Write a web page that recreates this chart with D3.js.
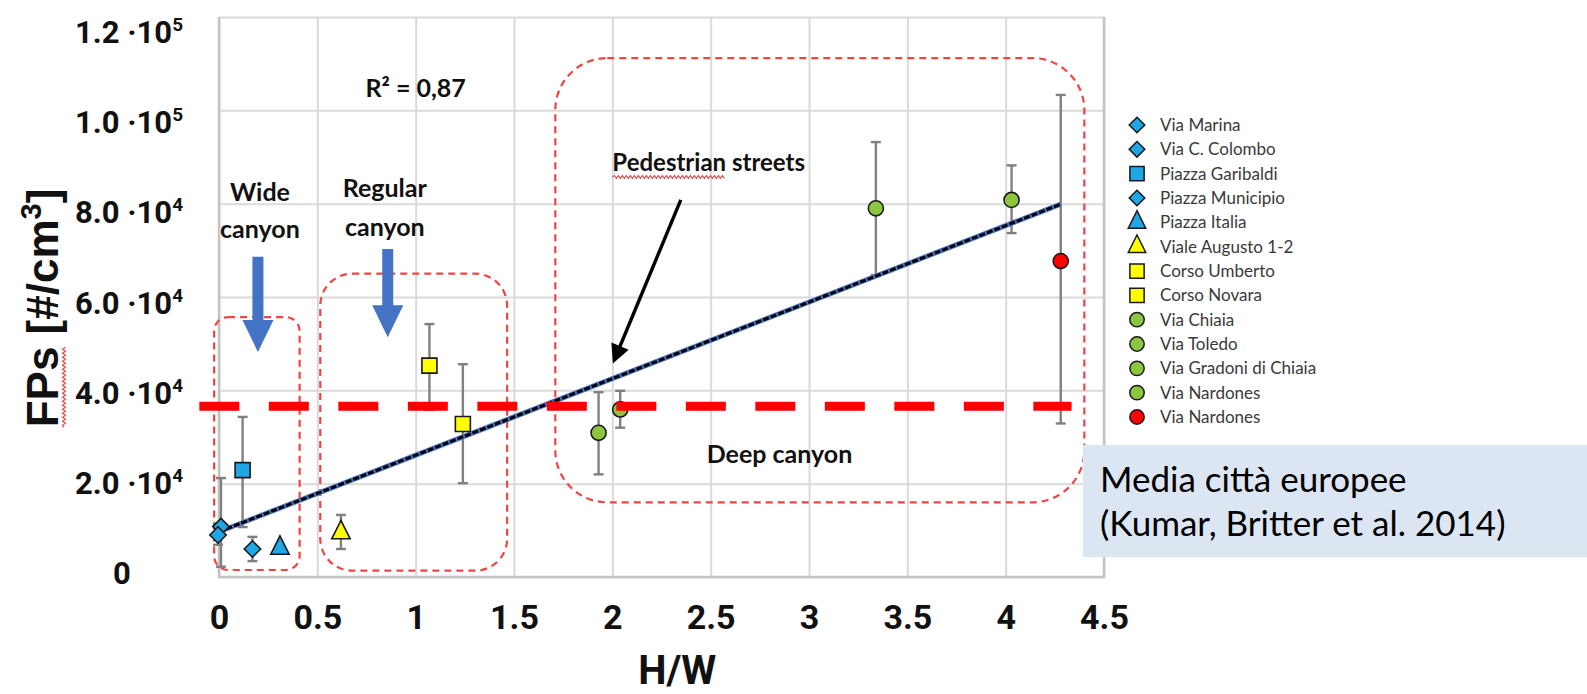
<!DOCTYPE html>
<html>
<head>
<meta charset="utf-8">
<script src="https://cdn.jsdelivr.net/npm/d3@7"></script>
<style>
  body { margin: 0; background: #fff; }
  svg { display: block; }
</style>
</head>
<body>
<svg width="1587" height="694"></svg>
<script>
// measured streets, H/W ratio against fine particle count
var streets = ["Via Marina", "Via C. Colombo", "Piazza Garibaldi", "Piazza Municipio", "Piazza Italia",
  "Viale Augusto 1-2", "Corso Umberto", "Corso Novara", "Via Chiaia", "Via Toledo",
  "Via Gradoni di Chiaia", "Via Nardones", "Via Nardones"];
var hw      = [0.01, -0.005, 0.12, 0.17, 0.31, 0.62, 1.07, 1.24, 1.93, 2.04, 3.34, 4.03, 4.28];
var fps     = [10800, 9000, 22900, 6000, 6200, 9500, 45300, 32800, 30900, 35900, 79000, 80800, 67700];
var errLow  = [2200, 6900, 10700, 3400, null, 6000, 35800, 20100, 22000, 32000, 64700, 73700, 32900];
var errHigh = [21200, 11500, 34300, 8600, null, 13300, 54200, 45600, 39600, 39900, 93200, 88200, 103300];
var symbols = ["diamond", "diamond", "square", "diamond", "triangle", "triangle", "square", "square",
  "circle", "circle", "circle", "circle", "circle"];
var groups  = ["wide", "wide", "wide", "wide", "wide", "regular", "regular", "regular",
  "deep", "deep", "deep", "deep", "peak"];

var xTicks = [0, 0.5, 1, 1.5, 2, 2.5, 3, 3.5, 4, 4.5];
var yTicks = [0, 20000, 40000, 60000, 80000, 100000, 120000];

// linear trend, R² = 0,87
var trendIntercept = 9700, trendSlope = 16400, trendRange = [0, 4.28];
// European cities average (Kumar, Britter et al. 2014)
var refLevel = 36600, refRange = [-0.1, 4.335];

// canyon regions (H/W range, FPs range)
var regionNames = ["Wide canyon", "Regular canyon", "Deep canyon"];
var regionHW  = [[-0.025, 0.41], [0.515, 1.465], [1.71, 4.40]];
var regionFPs = [[1500, 55700], [1350, 65000], [16000, 111200]];

var svg = d3.select("svg");

var x = d3.scaleLinear().domain([0, 4.5]).range([219, 1104]);
var y = d3.scaleLinear().domain([0, 120000]).range([577, 17]);
// the tick labels sit a little off the gridlines in the original slide
var yLab = d3.scaleLinear().domain([0, 120000]).range([573, 32]);

var groupFill = {wide: "#1ea6e6", regular: "#ffff00", deep: "#8cc63e", peak: "#ff0000"};

var rhomb = { draw: function(ctx, size) {
  var r = Math.sqrt(size / 2);
  ctx.moveTo(0, -r); ctx.lineTo(r, 0); ctx.lineTo(0, r); ctx.lineTo(-r, 0); ctx.closePath();
}};
var tri = { draw: function(ctx, size) {
  var w = Math.sqrt(size) * 0.75, h = Math.sqrt(size) * 1.5;
  ctx.moveTo(0, -h * 2 / 3); ctx.lineTo(w, h / 3); ctx.lineTo(-w, h / 3); ctx.closePath();
}};
function symbolPath(type, k) {
  var t = {diamond: [rhomb, 135], square: [d3.symbolSquare, 225], triangle: [tri, 150], circle: [d3.symbolCircle, 180]}[type];
  return d3.symbol().type(t[0]).size(t[1] * k * k)();
}

// ---- grid ----
var gx = svg.append("g")
    .attr("transform", "translate(0," + y(0) + ")")
    .call(d3.axisBottom(x).tickValues(xTicks).tickSize(-(y(0) - y(120000))).tickPadding(28).tickFormat(d3.format("")));
gx.select(".domain").remove();
gx.selectAll(".tick line").attr("stroke", "#dadada").attr("stroke-width", 2);
gx.selectAll(".tick text")
    .attr("font-family", "Roboto, sans-serif").attr("font-weight", 700).attr("font-size", 34).attr("fill", "#111");

var gy = svg.append("g")
    .attr("transform", "translate(" + x(0) + ",0)")
    .call(d3.axisLeft(y).tickValues(yTicks).tickSize(-(x(4.5) - x(0))).tickFormat(""));
gy.select(".domain").remove();
gy.selectAll(".tick line").attr("stroke", "#dadada").attr("stroke-width", 2);

svg.append("path")
    .attr("d", "M" + x(0) + "," + y(120000) + "V" + y(0) + "H" + x(4.5) + "V" + y(120000))
    .attr("fill", "none").attr("stroke", "#c4c4c4").attr("stroke-width", 2.5);

// ---- y tick labels ----
var yl = svg.append("g").selectAll("text").data(yTicks).enter().append("text")
    .attr("x", 129).attr("y", function(d) { return yLab(d); }).attr("dy", "0.36em")
    .attr("text-anchor", "middle")
    .attr("font-family", "Roboto, sans-serif").attr("font-weight", 700).attr("font-size", 31).attr("fill", "#111");
yl.each(function(d) {
  var t = d3.select(this);
  if (d == 0) { t.attr("x", 122).text("0"); return; }
  var e = Math.floor(Math.log10(d));
  t.append("tspan").text((d / Math.pow(10, e)).toFixed(1) + " \u00b710");
  t.append("tspan").attr("font-size", 19).attr("dy", -12).text(e);
});

// ---- axis titles ----
var yt = svg.append("g").attr("transform", "translate(58,308) rotate(-90)");
var ytText = yt.append("text").attr("text-anchor", "middle")
    .attr("font-family", "'Liberation Sans', Arial, sans-serif").attr("font-weight", 700).attr("font-size", 44).attr("fill", "#111");
ytText.append("tspan").text("FPs [#/cm");
ytText.append("tspan").attr("font-size", 29).attr("dy", -17).text("3");
ytText.append("tspan").attr("dy", 17).text("]");

function wavy(x0, x1, yy) {
  var p = "M" + x0 + "," + yy, up = true;
  for (var xx = x0 + 2; xx <= x1; xx += 2) { p += "L" + xx + "," + (yy + (up ? -1.5 : 1.5)); up = !up; }
  return p;
}
var fpsLen = ytText.node().getSubStringLength(0, 3);
var ytStart = -ytText.node().getComputedTextLength() / 2;
yt.append("path").attr("d", wavy(ytStart, ytStart + fpsLen, 6))
    .attr("fill", "none").attr("stroke", "#e05050").attr("stroke-width", 1.2);

svg.append("text").attr("x", x(2.33)).attr("y", 684).attr("text-anchor", "middle")
    .attr("font-family", "Roboto, sans-serif").attr("font-weight", 700).attr("font-size", 40).attr("fill", "#111")
    .text("H/W");

// ---- canyon regions ----
var radius = [14, 32, 52];
svg.append("g").selectAll("rect").data(regionNames).enter().append("rect")
    .attr("x", function(d, i) { return x(regionHW[i][0]); })
    .attr("y", function(d, i) { return y(regionFPs[i][1]); })
    .attr("width", function(d, i) { return x(regionHW[i][1]) - x(regionHW[i][0]); })
    .attr("height", function(d, i) { return y(regionFPs[i][0]) - y(regionFPs[i][1]); })
    .attr("rx", function(d, i) { return radius[i]; })
    .attr("fill", "none").attr("stroke", "#f04545").attr("stroke-width", 2.2).attr("stroke-dasharray", "7,5");

// ---- annotations ----
var font = "Lato, 'Open Sans', sans-serif";
function label(tx, hx, fy, size, weight) {
  return svg.append("text").attr("x", x(hx)).attr("y", y(fy)).attr("text-anchor", "middle")
    .attr("font-family", font).attr("font-weight", weight || 700).attr("font-size", size).attr("fill", "#111").text(tx);
}
label("R\u00b2 = 0,87", 1.0, 102800, 25);
label("Wide", 0.208, 80500, 25);
label("canyon", 0.208, 72700, 25);
label("Regular", 0.843, 81400, 25);
label("canyon", 0.843, 73100, 25);
var ped = label("Pedestrian streets", 2.49, 87000, 24);
var pedLen = ped.node().getSubStringLength(0, 10);
var pedX = x(2.49) - ped.node().getComputedTextLength() / 2;
svg.append("path").attr("d", wavy(pedX, pedX + pedLen, y(87000) + 6))
    .attr("fill", "none").attr("stroke", "#e05050").attr("stroke-width", 1.2);
label("Deep canyon", 2.85, 24400, 25);

// blue arrows pointing into the canyons
var arrowHW = [0.198, 0.858], arrowTop = [68600, 70300], arrowTip = [48200, 51400];
arrowHW.forEach(function(hx, i) {
  var cx = x(hx), t = y(arrowTop[i]), tip = y(arrowTip[i]), base = tip - 32;
  svg.append("path")
    .attr("d", "M" + (cx - 5.5) + "," + t + "H" + (cx + 5.5) + "V" + base + "H" + (cx + 15.5) +
      "L" + cx + "," + tip + "L" + (cx - 15.5) + "," + base + "H" + (cx - 5.5) + "Z")
    .attr("fill", "#4472c4");
});

// black arrow to the trend line
svg.append("defs").append("marker").attr("id", "head")
    .attr("viewBox", "0 0 10 10").attr("refX", 8).attr("refY", 5)
    .attr("markerWidth", 6).attr("markerHeight", 5.5).attr("orient", "auto")
    .append("path").attr("d", "M0,0L10,5L0,10Z").attr("fill", "#000");
svg.append("line")
    .attr("x1", x(2.348)).attr("y1", y(80800)).attr("x2", x(2.01)).attr("y2", y(46500))
    .attr("stroke", "#000").attr("stroke-width", 3.4).attr("marker-end", "url(#head)");

// ---- data ----
var pts = streets.map(function(s, i) {
  return {name: s, hw: hw[i], fps: fps[i], lo: errLow[i], hi: errHigh[i], sym: symbols[i], group: groups[i]};
});

var err = svg.append("g").selectAll("g").data(pts.filter(function(d) { return d.lo != null; })).enter().append("g")
    .attr("stroke", "#808080").attr("stroke-width", 2.4);
err.append("line")
    .attr("x1", function(d) { return x(d.hw); }).attr("x2", function(d) { return x(d.hw); })
    .attr("y1", function(d) { return y(d.lo); }).attr("y2", function(d) { return y(d.hi); });
["lo", "hi"].forEach(function(k) {
  err.append("line")
    .attr("x1", function(d) { return x(d.hw) - 5; }).attr("x2", function(d) { return x(d.hw) + 5; })
    .attr("y1", function(d) { return y(d[k]); }).attr("y2", function(d) { return y(d[k]); });
});

var trend = d3.line().x(function(d) { return x(d); }).y(function(d) { return y(trendIntercept + trendSlope * d); });
svg.append("path").attr("d", trend(trendRange))
    .attr("stroke", "#4a74c4").attr("stroke-width", 5).attr("fill", "none");
svg.append("path").attr("d", trend(trendRange))
    .attr("stroke", "#000").attr("stroke-width", 3).attr("stroke-dasharray", "6,2").attr("fill", "none");

svg.append("g").selectAll("path").data(pts).enter().append("path")
    .attr("transform", function(d) { return "translate(" + x(d.hw) + "," + y(d.fps) + ")"; })
    .attr("d", function(d) { return symbolPath(d.sym, 1); })
    .attr("fill", function(d) { return groupFill[d.group]; })
    .attr("stroke", "#1a1a1a").attr("stroke-width", 1.6);

// reference level
svg.append("line")
    .attr("x1", x(refRange[0])).attr("x2", x(refRange[1]))
    .attr("y1", y(refLevel)).attr("y2", y(refLevel))
    .attr("stroke", "#ff0000").attr("stroke-width", 9).attr("stroke-dasharray", "40,29.5");

// ---- legend ----
var legY = d3.scaleLinear().domain([0, streets.length - 1]).range([125, 417]);
var leg = svg.append("g").selectAll("g").data(pts).enter().append("g")
    .attr("transform", function(d, i) { return "translate(1137," + legY(i) + ")"; });
leg.append("path")
    .attr("d", function(d) { return symbolPath(d.sym, 0.95); })
    .attr("fill", function(d) { return groupFill[d.group]; })
    .attr("stroke", "#1a1a1a").attr("stroke-width", 1.5);
leg.append("text").attr("x", 23).attr("dy", "0.35em")
    .attr("font-family", font).attr("font-size", 17).attr("fill", "#3a3a3a")
    .text(function(d) { return d.name; });

// ---- note box ----
svg.append("rect").attr("x", 1083).attr("y", 445).attr("width", 504).attr("height", 112).attr("fill", "#dce6f2");
var note = svg.append("text").attr("font-family", font).attr("font-size", 35).attr("fill", "#000");
note.append("tspan").attr("x", 1100).attr("y", 492).text("Media citt\u00e0 europee");
note.append("tspan").attr("x", 1100).attr("y", 536).text("(Kumar, Britter et al. 2014)");
</script>
</body>
</html>
